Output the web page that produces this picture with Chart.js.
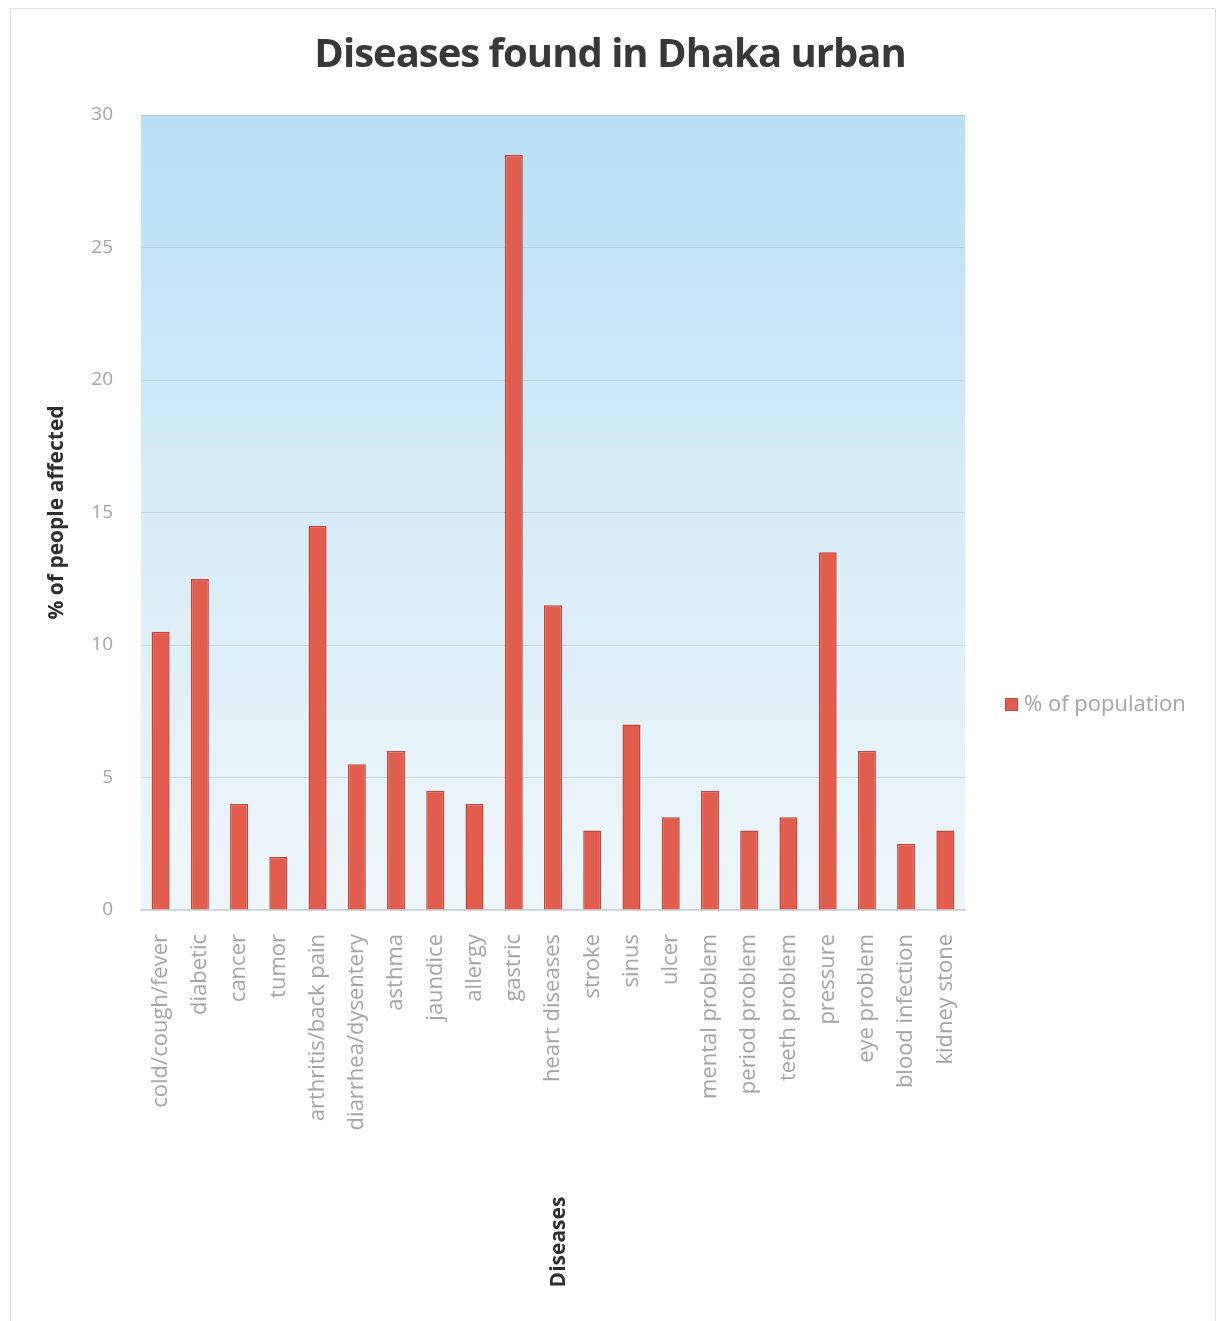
<!DOCTYPE html>
<html lang="en">
<head>
<meta charset="UTF-8">
<title>Diseases found in Dhaka urban</title>
<script src="https://cdn.jsdelivr.net/npm/chart.js"></script>
<style>
  html, body {
    margin: 0;
    padding: 0;
    background: #fff;
  }
  #wrap {
    position: relative;
    width: 1224px;
    height: 1321px;
  }
  #wrap::before {
    content: '';
    position: absolute;
    left: 10px; top: 8px; right: 8px; bottom: 0;
    border: 1px solid #e2e2e2;
    border-bottom: none;
    pointer-events: none;
  }
</style>
</head>
<body>
<div id="wrap">
  <canvas id="diseaseChart" width="1224" height="1321"></canvas>
</div>

<script>
const diseases = [
  'cold/cough/fever', 'diabetic', 'cancer', 'tumor', 'arthritis/back pain',
  'diarrhea/dysentery', 'asthma', 'jaundice', 'allergy', 'gastric',
  'heart diseases', 'stroke', 'sinus', 'ulcer', 'mental problem',
  'period problem', 'teeth problem', 'pressure', 'eye problem',
  'blood infection', 'kidney stone'
];
const percentAffected = [
  10.5, 12.5, 4, 2, 14.5,
  5.5, 6, 4.5, 4, 28.5,
  11.5, 3, 7, 3.5, 4.5,
  3, 3.5, 13.5, 6,
  2.5, 3
];
const yTicks = [0, 5, 10, 15, 20, 25, 30];

const chartTitle = 'Diseases found in Dhaka urban';
const xTitle = 'Diseases';
const seriesName = '% of population';
const barRed = '#e15d4d';
const barEdge = '#c0473a';
const labelGrey = '#a4a4a4';

// sky gradient behind the plot
const plotBackground = {
  id: 'plotBackground',
  beforeDraw(chart) {
    const { ctx, chartArea: a } = chart;
    const g = ctx.createLinearGradient(0, a.top, 0, a.bottom);
    g.addColorStop(0, '#b8dff5');
    g.addColorStop(0.45, '#d4ebf8');
    g.addColorStop(1, '#eff6fa');
    ctx.save();
    ctx.fillStyle = g;
    ctx.fillRect(a.left, a.top, a.right - a.left, a.bottom - a.top);
    ctx.restore();
  }
};

// title, vertical x-axis title and the series key on the right
const extras = {
  id: 'extras',
  afterDraw(chart) {
    const { ctx, chartArea: a } = chart;
    ctx.save();
    ctx.font = 'bold 40px "Open Sans"';
    ctx.letterSpacing = '-1px';
    ctx.fillStyle = '#383838';
    ctx.textAlign = 'center';
    ctx.textBaseline = 'middle';
    ctx.fillText(chartTitle, 610, 56);
    ctx.restore();

    ctx.save();
    ctx.translate((a.left + a.right) / 2 + 6, 1242);
    ctx.rotate(-Math.PI / 2);
    ctx.font = 'bold 21px "Open Sans"';
    ctx.fillStyle = '#2e2e2e';
    ctx.textAlign = 'center';
    ctx.textBaseline = 'middle';
    ctx.fillText(xTitle, 0, 0);
    ctx.restore();

    ctx.save();
    ctx.fillStyle = barRed;
    ctx.strokeStyle = barEdge;
    ctx.fillRect(1005, 698, 13, 13);
    ctx.strokeRect(1005.5, 698.5, 12, 12);
    ctx.font = '22px "Open Sans"';
    ctx.fillStyle = labelGrey;
    ctx.textBaseline = 'middle';
    ctx.fillText(seriesName, 1024, 705);
    ctx.restore();
  }
};

const ctx = document.getElementById('diseaseChart').getContext('2d');
new Chart(ctx, {
  type: 'bar',
  data: {
    labels: diseases,
    datasets: [{
      label: seriesName,
      data: percentAffected,
      backgroundColor: barRed,
      borderColor: barEdge,
      borderWidth: 1.5,
      categoryPercentage: 1,
      barPercentage: 0.46
    }]
  },
  options: {
    responsive: false,
    animation: false,
    layout: { padding: { top: 115, left: 30, right: 259, bottom: 191 } },
    plugins: {
      legend: { display: false },
      tooltip: { enabled: false },
      title: { display: false }
    },
    scales: {
      x: {
        afterFit(scale) { scale.height = 220; },
        grid: { display: false, drawTicks: false },
        border: { color: '#c9d4da', width: 1.5 },
        ticks: {
          autoSkip: false,
          minRotation: 90,
          maxRotation: 90,
          padding: 24,
          color: labelGrey,
          font: { family: 'Open Sans', size: 22 }
        }
      },
      y: {
        min: 0,
        max: 30,
        afterFit(scale) { scale.width = 111; },
        afterBuildTicks(scale) { scale.ticks = yTicks.map(v => ({ value: v })); },
        grid: { color: 'rgba(160, 182, 196, 0.4)', drawTicks: false },
        border: { display: false },
        ticks: {
          padding: 28,
          color: labelGrey,
          font: { family: 'Open Sans', size: 19 }
        },
        title: {
          display: true,
          text: '% of people affected',
          color: '#2e2e2e',
          font: { family: 'Open Sans', size: 21, weight: 'bold' },
          padding: { top: 14 }
        }
      }
    }
  },
  plugins: [plotBackground, extras]
});
</script>
</body>
</html>
